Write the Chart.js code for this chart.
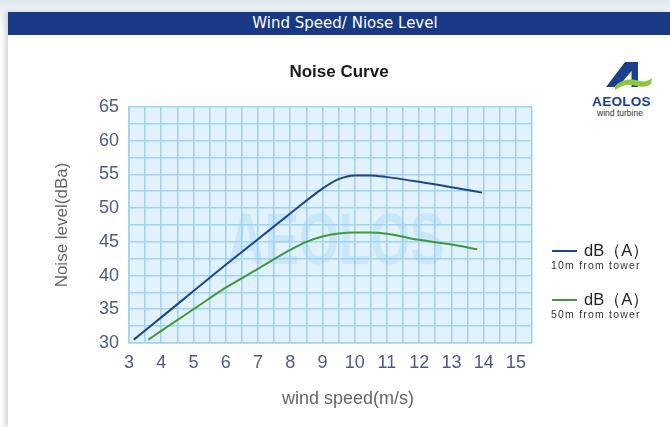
<!DOCTYPE html>
<html><head><meta charset="utf-8">
<script src="https://cdn.jsdelivr.net/npm/chart.js@4.4.1/dist/chart.umd.min.js"></script>
<style>
html,body{margin:0;padding:0;width:670px;height:427px;overflow:hidden;background:#fff;}
#bg{position:absolute;left:0;top:0;width:670px;height:427px;background:linear-gradient(#dde7ef,#eef3f7 10px,#ffffff 30px);}
#panel{position:absolute;left:8px;top:12px;width:662px;height:415px;background:#fff;box-shadow:-3px 0 5px rgba(120,130,140,0.35);}
#bar{position:absolute;left:8px;top:12px;width:650px;padding-left:12px;height:23px;background:#183a86;color:#fff;font:15px "DejaVu Sans",sans-serif;line-height:23px;text-align:center;}
#chart{position:absolute;left:0;top:0;}
#logo{position:absolute;left:0;top:0;}
.lg-line{position:absolute;width:25px;height:2px;}
.lg-main{position:absolute;font:16.5px "Liberation Sans",Arial,sans-serif;color:#222;white-space:nowrap;}
.lg-sub{position:absolute;font:10.5px "Liberation Sans",Arial,sans-serif;letter-spacing:1.2px;color:#333;white-space:nowrap;}
</style></head>
<body>
<div id="bg"></div>
<div id="panel"></div>
<div id="bar">Wind Speed/ Niose Level</div>
<svg id="logo" width="670" height="427">
  <path d="M606,87 L625,62 L638,62 L638,87 L631.5,87 L631.5,71 L618,87 Z" fill="#1c3f8f"/>
  <path d="M615,86 C624,78 632,79 640,81 C645,82 648,81 652,78 L651,84 C645,88 640,87 632,85 C626,84 621,86 615,90 Z" fill="#8cc63f"/>
  <text x="621.5" y="106" text-anchor="middle" font-family="Liberation Sans, Arial" font-weight="bold" font-size="13.5" fill="#1c3f8f" letter-spacing="0.3">AEOLOS</text>
  <text x="620" y="116" text-anchor="middle" font-family="Liberation Sans, Arial" font-size="8.5" fill="#333">wind turbine</text>
</svg>
<canvas id="chart" width="670" height="427"></canvas>
<div id="legend"></div>
<script>
// ---- data ----
const speedsBlue = [3.15, 4, 5, 6, 7, 8, 9, 9.5, 10, 10.5, 11, 12, 13, 13.95];
const noiseBlue  = [30.5, 33.8, 37.7, 41.6, 45.4, 49.2, 52.9, 54.3, 54.85, 54.85, 54.6, 53.9, 53.1, 52.3];
const speedsGreen = [3.6, 4, 5, 6, 7, 8, 8.5, 9, 9.5, 10, 10.5, 11, 12, 13, 13.8];
const noiseGreen  = [30.5, 31.8, 35.0, 38.2, 41.0, 43.8, 45.0, 45.8, 46.25, 46.4, 46.4, 46.2, 45.3, 44.6, 43.9];
const seriesLabels = ['dB\uFF08A\uFF09', 'dB\uFF08A\uFF09'];
const seriesNotes  = ['10m from tower', '50m from tower'];
const seriesColors = ['#1d4589', '#3f9a3a'];
const xTicks = [3, 4, 5, 6, 7, 8, 9, 10, 11, 12, 13, 14, 15];
const yTicks = [30, 35, 40, 45, 50, 55, 60, 65];

const toPts = (xs, ys) => xs.map((x, i) => ({x, y: ys[i]}));

const bgPlugin = {
  id: 'areaBg',
  beforeDraw(chart) {
    const {ctx, chartArea: a} = chart;
    ctx.save();
    ctx.fillStyle = '#e1f2fc';
    ctx.fillRect(a.left, a.top, a.right - a.left, a.bottom - a.top);
    ctx.restore();
  }
};
const watermark = {
  id: 'watermark',
  beforeDatasetsDraw(chart) {
    const {ctx} = chart;
    ctx.save();
    ctx.font = 'bold 72px "Liberation Sans", Arial';
    const w = ctx.measureText('AEOLOS').width;
    const cx = 336, base = 264, target = 217;
    ctx.translate(cx, base);
    ctx.scale(target / w, 1);
    ctx.fillStyle = 'rgba(150,205,245,0.3)';
    ctx.textAlign = 'center';
    ctx.textBaseline = 'alphabetic';
    ctx.fillText('AEOLOS', 0, 0);
    ctx.restore();
  }
};

const near = (v, list) => list.some(t => Math.abs(v - t) < 1e-6);
const gridColor = '#9fd4f4';

new Chart(document.getElementById('chart'), {
  type: 'line',
  data: {
    datasets: [
      {label: seriesLabels[0] + ' ' + seriesNotes[0], data: toPts(speedsBlue, noiseBlue), borderColor: seriesColors[0], borderWidth: 2, pointRadius: 0, cubicInterpolationMode: 'monotone', fill: false},
      {label: seriesLabels[1] + ' ' + seriesNotes[1], data: toPts(speedsGreen, noiseGreen), borderColor: seriesColors[1], borderWidth: 2, pointRadius: 0, cubicInterpolationMode: 'monotone', fill: false}
    ]
  },
  options: {
    responsive: false,
    animation: false,
    events: [],
    layout: {padding: {left: 8, right: 0, top: 50, bottom: 0}},
    plugins: {
      legend: {display: false},
      tooltip: {enabled: false},
      title: {
        display: true, text: 'Noise Curve', color: '#1a1a1a',
        font: {family: '"Liberation Sans", Arial', size: 17, weight: 'bold'},
        padding: {top: 12, bottom: 24.6}
      }
    },
    scales: {
      x: {
        type: 'linear', min: 3, max: 15.5,
        afterFit(s) { s.height = 84; },
        ticks: {stepSize: 0.5, autoSkip: false, maxRotation: 0, padding: 9, color: '#4b5b8c',
          font: {family: '"Liberation Sans", Arial', size: 18},
          callback: v => near(v, xTicks) ? String(Math.round(v)) : ''},
        grid: {color: gridColor, lineWidth: 1.6, drawTicks: false},
        border: {color: gridColor, width: 1.6},
        title: {display: true, text: '       wind speed(m/s)', color: '#666',
          font: {family: '"Liberation Sans", Arial', size: 18}, padding: {top: 0, bottom: 17}}
      },
      y: {
        type: 'linear', min: 30, max: 65,
        afterFit(s) { s.width = 121; },
        ticks: {stepSize: 2.5, autoSkip: false, padding: 10, color: '#4b5b8c',
          font: {family: '"Liberation Sans", Arial', size: 18},
          callback: v => near(v, yTicks) ? String(Math.round(v)) : ''},
        grid: {color: gridColor, lineWidth: 1.6, drawTicks: false},
        border: {color: gridColor, width: 1.6},
        title: {display: true, text: 'Noise level(dBa)', color: '#666',
          font: {family: '"Liberation Sans", Arial', size: 17}, padding: {top: 44, bottom: 0}}
      },
      side: {
        type: 'linear', position: 'right', min: 30, max: 65,
        afterFit(s) { s.width = 138; },
        ticks: {display: false},
        grid: {display: false, drawTicks: false},
        border: {display: false}
      }
    }
  },
  plugins: [bgPlugin, watermark]
});

// legend built from the series arrays
const lg = document.getElementById('legend');
const rows = [251, 300];
seriesLabels.forEach((lab, i) => {
  const y = rows[i];
  const line = document.createElement('div');
  line.className = 'lg-line'; line.style.left = '552px'; line.style.top = (y - 1) + 'px';
  line.style.background = seriesColors[i];
  const m = document.createElement('div');
  m.className = 'lg-main'; m.style.left = '584px'; m.style.top = (y - 11) + 'px'; m.textContent = lab;
  const s = document.createElement('div');
  s.className = 'lg-sub'; s.style.left = '551px'; s.style.top = (y + 8) + 'px'; s.textContent = seriesNotes[i];
  lg.append(line, m, s);
});
</script>
</body></html>
